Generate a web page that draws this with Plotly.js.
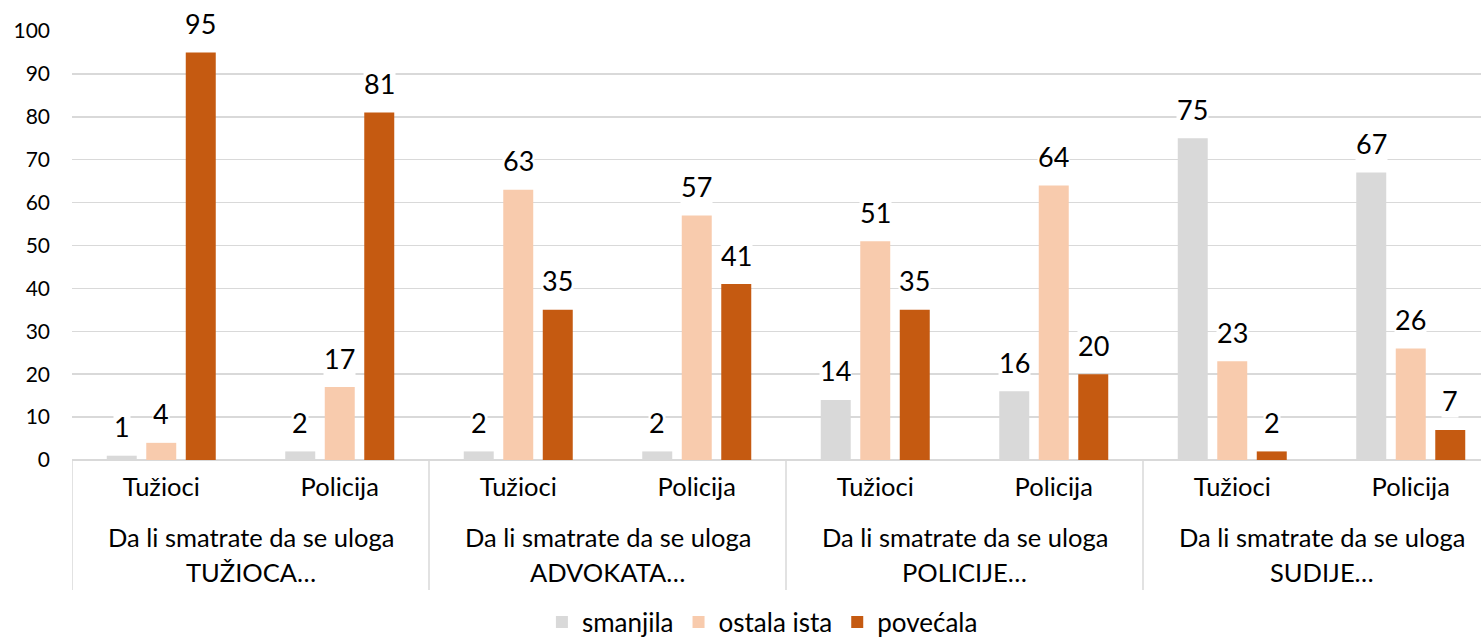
<!DOCTYPE html>
<html>
<head>
<meta charset="utf-8">
<script src="https://cdn.plot.ly/plotly-3.0.1.min.js"></script>
<style>html,body{margin:0;padding:0;background:#fff;}#chart{width:1481px;height:642px;}</style>
</head>
<body>
<div id="chart"></div>
<script>
// ---- data ----
const subCategories = ["Tužioci", "Policija", "Tužioci", "Policija", "Tužioci", "Policija", "Tužioci", "Policija"];
const groupLine1 = ["Da li smatrate da se uloga", "Da li smatrate da se uloga", "Da li smatrate da se uloga", "Da li smatrate da se uloga"];
const groupLine2 = ["TUŽIOCA…", "ADVOKATA…", "POLICIJE…", "SUDIJE…"];
const seriesNames = ["smanjila", "ostala ista", "povećala"];
const smanjila = [1, 2, 2, 2, 14, 16, 75, 67];
const ostalaIsta = [4, 17, 63, 57, 51, 64, 23, 26];
const povecala = [95, 81, 35, 41, 35, 20, 2, 7];
const yTicks = [0, 10, 20, 30, 40, 50, 60, 70, 80, 90, 100];

// ---- styling ----
const colors = ["#D9D9D9", "#F8CBAD", "#C55A11"];
const FONT = "Lato, 'Open Sans', sans-serif";
const pitch = 0.2213;   // bar spacing in category units
const barW = 0.168;
const shifts = [-pitch, 0, pitch];
const seriesValues = [smanjila, ostalaIsta, povecala];
const xIdx = subCategories.map((_, i) => i);

const traces = seriesValues.map((vals, s) => ({
  type: "bar",
  name: seriesNames[s],
  x: xIdx,
  y: vals,
  width: barW,
  offset: shifts[s] - barW / 2,
  marker: {color: colors[s], line: {width: 0}},
  hoverinfo: "skip"
}));

const annotations = [];
seriesValues.forEach((vals, s) => {
  vals.forEach((v, i) => {
    annotations.push({
      x: i + shifts[s], y: v, xref: "x", yref: "y",
      text: String(v), showarrow: false,
      yanchor: "middle", yshift: 29,
      bgcolor: "#ffffff", borderpad: 0,
      font: {family: FONT, size: 27, color: "#000000"}
    });
  });
});

const plotH = 429;
const groupCenters = [0.5, 2.5, 4.5, 6.5];
groupCenters.forEach((c, g) => {
  annotations.push({
    x: c, xref: "x", y: -(537 - 460) / plotH, yref: "paper",
    text: groupLine1[g], showarrow: false, yanchor: "middle",
    font: {family: FONT, size: 25.5, color: "#000000"}
  });
  annotations.push({
    x: c, xref: "x", y: -(572 - 460) / plotH, yref: "paper",
    text: groupLine2[g], showarrow: false, yanchor: "middle",
    font: {family: FONT, size: 25.5, color: "#000000"}
  });
});

const dividers = [-0.5, 1.5, 3.5, 5.5, 7.5].map(xv => ({
  type: "line", xref: "x", yref: "paper",
  x0: xv, x1: xv, y0: 0, y1: -(590 - 460) / plotH,
  line: {color: "#D9D9D9", width: 1.5}
}));

const layout = {
  width: 1481, height: 642,
  margin: {l: 72, r: 0, t: 31, b: 182, autoexpand: false},
  paper_bgcolor: "#ffffff", plot_bgcolor: "#ffffff",
  barmode: "overlay",
  showlegend: true,
  legend: {
    orientation: "h", x: 0.49, xanchor: "center",
    yref: "container", y: (642 - 622) / 642, yanchor: "middle",
    font: {family: FONT, size: 26, color: "#000000"},
    itemclick: false, itemdoubleclick: false
  },
  xaxis: {
    range: [-0.5, (1481 - 72) / 178.5 - 0.5],
    tickmode: "array", tickvals: xIdx, ticktext: subCategories,
    ticks: "", showgrid: false, zeroline: false,
    showline: false, ticklabelstandoff: 9,
    tickfont: {family: FONT, size: 25.5, color: "#000000"},
    fixedrange: true
  },
  yaxis: {
    range: [0, 100],
    tickmode: "array", tickvals: yTicks,
    showgrid: true, gridcolor: "#D9D9D9", gridwidth: 1.5,
    zeroline: true, zerolinecolor: "#D9D9D9", zerolinewidth: 1.5,
    showline: false, ticks: "", ticklabelstandoff: 21,
    tickfont: {family: FONT, size: 21, color: "#000000"},
    fixedrange: true
  },
  annotations: annotations,
  shapes: dividers,
  font: {family: FONT}
};

Plotly.newPlot("chart", traces, layout, {displayModeBar: false, staticPlot: true});
</script>
</body>
</html>
